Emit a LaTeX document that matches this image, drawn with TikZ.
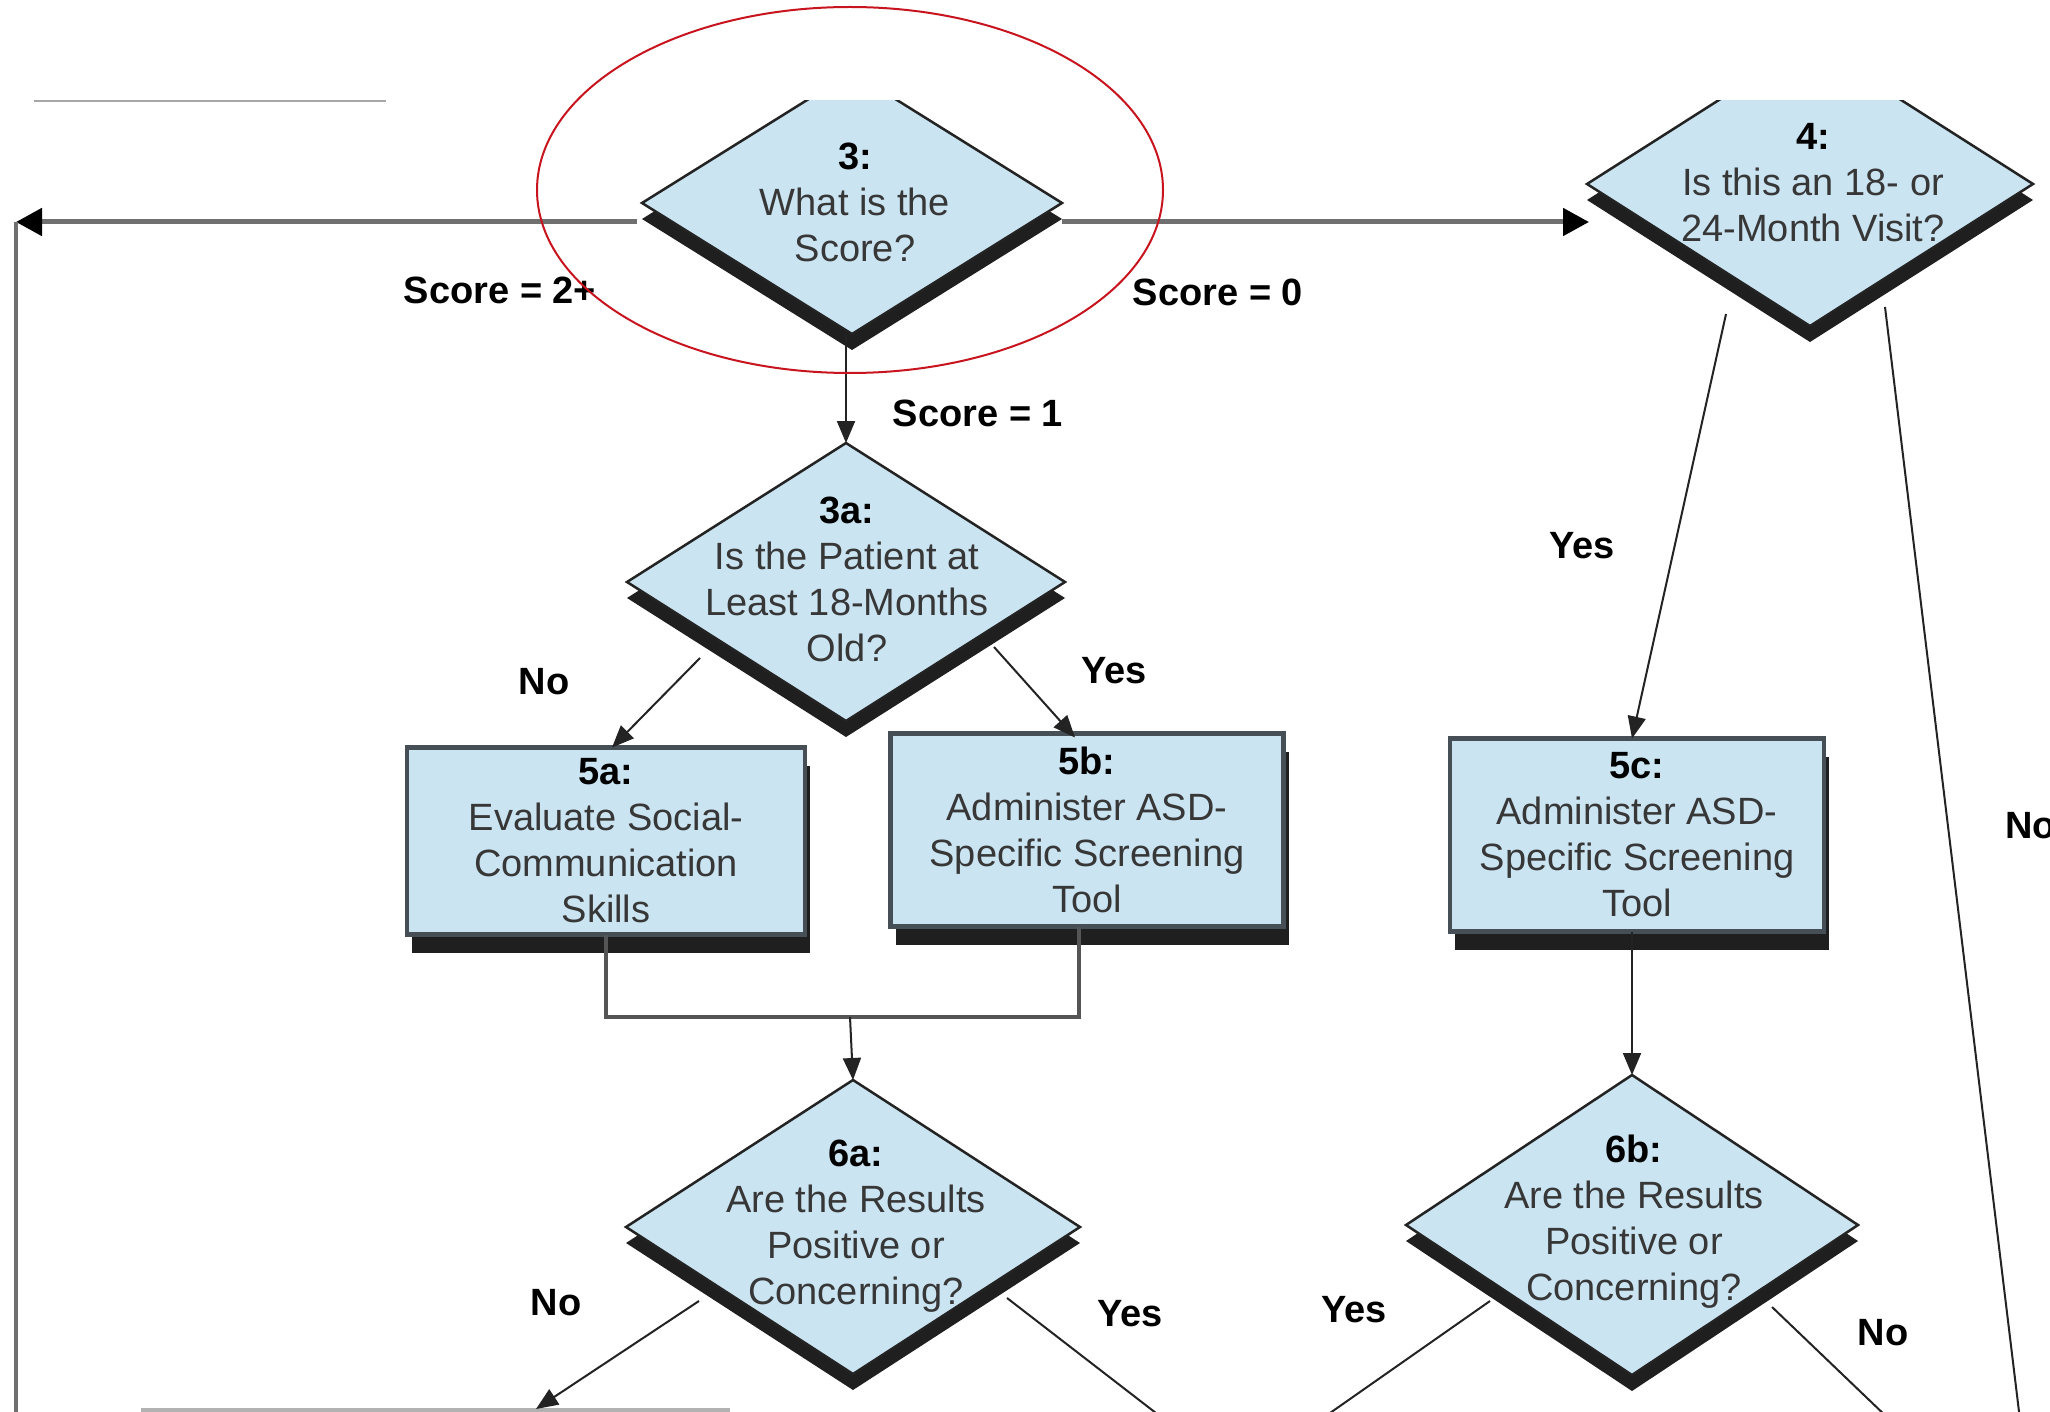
\documentclass[tikz,border=0pt]{standalone}
\usepackage{fontspec}
\setmainfont{Liberation Sans}
\usetikzlibrary{shapes.geometric,shadows,arrows.meta,calc}

\definecolor{boxfill}{RGB}{203,228,242}
\definecolor{edge}{RGB}{35,35,35}
\definecolor{boxedge}{RGB}{70,78,86}
\definecolor{txt}{RGB}{55,55,55}
\definecolor{flowgrey}{RGB}{112,112,112}
\definecolor{joingrey}{RGB}{85,85,85}
\definecolor{circred}{RGB}{200,20,30}

\newcommand\stepno[1]{\textbf{\textcolor{black}{#1}}}

\begin{document}
\begin{tikzpicture}[x=1pt,y=-1pt,
  every node/.style={font=\fontsize{38}{46}\selectfont, text=txt},
  decision/.style={shape=diamond, draw=edge, line width=2.5pt, fill=boxfill,
    inner sep=0pt, outer sep=0pt,
    drop shadow={opacity=1, fill=black!88, shadow xshift=0pt, shadow yshift=-16pt}},
  process/.style={rectangle, draw=boxedge, line width=4.5pt, fill=boxfill,
    align=center, inner sep=0pt, outer sep=0pt,
    drop shadow={opacity=1, fill=black!88, shadow xshift=5pt, shadow yshift=-18pt}},
  qtext/.style={align=center},
  tag/.style={font=\fontsize{38}{46}\selectfont\bfseries, text=black},
  thin/.style={draw=edge, line width=2pt},
  tip/.style={-{Triangle[length=22pt,width=18pt]}},
  trunk/.style={draw=flowgrey, line width=5pt},
  bigtip/.style={-{Triangle[length=26pt,width=27pt,color=black]}},
  side/.style={draw=flowgrey, line width=3.5pt},
  joinline/.style={draw=joingrey, line width=3.5pt},
]
\useasboundingbox (0,0) rectangle (2050,1412);
\fill[white] (0,0) rectangle (2050,1412);
\clip (0,0) rectangle (2050,1412);

% page edge marks
\draw[gray!70, line width=2pt] (34,101) -- (386,101);
\draw[gray!60, line width=4pt] (141,1410) -- (730,1410);

% top decisions, cut at the page edge
\begin{scope}
  \clip (0,101) rectangle (2050,1412);
  \node[decision, minimum width=420pt, minimum height=262pt] (d3) at (852,203) {};
  \node[decision, minimum width=446pt, minimum height=284pt] (d4) at (1810,184) {};
\end{scope}
\node[qtext] (t3) at (855,202) {\stepno{3:}\\What is the\\Score?};
\node[qtext] (t4) at (1813,183) {\stepno{4:}\\Is this an 18- or\\24-Month Visit?};

% second row
\node[decision, minimum width=438pt, minimum height=278pt] (d3a) at (846,582) {};
\node[qtext] (t3a) at (847,579) {\stepno{3a:}\\Is the Patient at\\Least 18-Months\\Old?};

\node[process, minimum width=398pt, minimum height=187pt] (b5a) at (606,841)
  {\stepno{5a:}\\Evaluate Social-\\Communication\\Skills};
\node[process, minimum width=393pt, minimum height=193pt] (b5b) at (1087,830)
  {\stepno{5b:}\\Administer ASD-\\Specific Screening\\Tool};
\node[process, minimum width=374pt, minimum height=193pt] (b5c) at (1637,835)
  {\stepno{5c:}\\Administer ASD-\\Specific Screening\\Tool};

% result decisions
\node[decision, minimum width=454pt, minimum height=294pt] (d6a) at (853,1227) {};
\node[qtext] (t6a) at (856,1226) {\stepno{6a:}\\Are the Results\\Positive or\\Concerning?};
\node[decision, minimum width=452pt, minimum height=300pt] (d6b) at (1632,1225) {};
\node[qtext] (t6b) at (1634,1222) {\stepno{6b:}\\Are the Results\\Positive or\\Concerning?};

% free ends
\coordinate (lcorner) at (16,222);
\coordinate (lbottom) at (16,1420);
\coordinate (jn) at (850,1017);
\coordinate (n6aend) at (536,1409);
\coordinate (y6aend) at (1165,1420);
\coordinate (y6bend) at (1320,1420);
\coordinate (n6bend) at (1890,1420);
\coordinate (n4end) at (2020,1420);

% score branches
\draw[trunk, bigtip] ($(d3.west)+(-5,19)$) -- (lcorner);
\draw[side] (lcorner) -- (lbottom);
\draw[trunk, bigtip] ($(d3.east)+(0,19)$) -- ($(d4.west)+(2,38)$);
\draw[thin, tip] (d3a.north |- d3.south) -- (d3a.north);

% age branches
\draw[thin, tip] ($(d3a.center)+(-146,76)$) -- ($(b5a.north)+(6,0)$);
\draw[thin, tip] ($(d3a.center)+(148,65)$) -- ($(b5b.north)+(-12,4)$);

% merge into 6a
\draw[joinline] (b5a.south) |- (jn) -| ($(b5b.south)+(-8,0)$);
\draw[thin, tip] (jn) -- (d6a.north);

% visit branches
\draw[thin, tip] ($(d4.center)+(-84,130)$) -- ($(b5c.north)+(-5,0)$);
\draw[thin] ($(d4.center)+(75,123)$) -- (n4end);
\draw[thin, tip] (d6b.north |- b5c.south) -- (d6b.north);

% result branches
\draw[thin, tip] ($(d6a.center)+(-154,74)$) -- (n6aend);
\draw[thin] ($(d6a.center)+(154,71)$) -- (y6aend);
\draw[thin] ($(d6b.center)+(-142,76)$) -- (y6bend);
\draw[thin] ($(d6b.center)+(140,82)$) -- (n6bend);

% branch labels
\node[tag] (ls2) at (500,290) {Score = 2+};
\node[tag] (ls0) at (1218,292) {Score = 0};
\node[tag] (ls1) at (978,413) {Score = 1};
\node[tag] (l3ano) at (544,682) {No};
\node[tag] (l3ayes) at (1114,671) {Yes};
\node[tag] (l4yes) at (1582,546) {Yes};
\node[tag, anchor=west] (l4no) at (2002,826) {No};
\node[tag] (l6ano) at (556,1303) {No};
\node[tag] (l6ayes) at (1130,1314) {Yes};
\node[tag] (l6byes) at (1354,1310) {Yes};
\node[tag] (l6bno) at (1883,1333) {No};

% highlight ring
\draw[circred, line width=2pt] (850,190) ellipse [x radius=313pt, y radius=183pt];
\end{tikzpicture}
\end{document}
